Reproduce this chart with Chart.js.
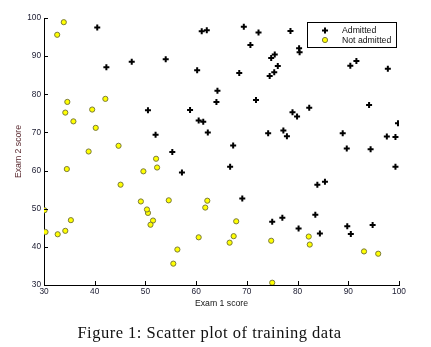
<!DOCTYPE html>
<html><head><meta charset="utf-8">
<script src="https://cdn.jsdelivr.net/npm/chart.js@4.4.0/dist/chart.umd.min.js"></script>
<style>
html,body{margin:0;padding:0;background:#fff;}
#wrap{position:relative;width:431px;height:347px;overflow:hidden;}
#c{position:absolute;left:0;top:0;}
#cap{position:absolute;left:0;width:419px;top:323px;text-align:center;font-family:"Liberation Serif",serif;font-size:16.5px;letter-spacing:0.5px;line-height:20px;color:#111;white-space:nowrap;}
</style></head><body>
<div id="wrap"><canvas id="c" width="431" height="347"></canvas><div id="cap">Figure 1: Scatter plot of training data</div></div>
<script>
const seriesLabels = ['Admitted', 'Not admitted'];
const xTitle = 'Exam 1 score';
const yTitle = 'Exam 2 score';
const xTicks = [30, 40, 50, 60, 70, 80, 90, 100];
const yTicks = [30, 40, 50, 60, 70, 80, 90, 100];

const admittedExam1 = [60.2, 79.0, 61.1, 75.0, 76.1, 84.4, 82.3, 69.4, 54.0, 69.1, 70.7, 77.0, 89.7, 77.9, 62.3, 80.2, 61.4, 85.4, 52.0, 64.2, 83.9, 94.4, 77.2, 97.8, 62.1, 91.6, 79.9, 99.3, 90.5, 97.6, 74.2, 71.8, 75.4, 40.5, 80.3, 66.7, 64.0, 72.3, 60.5, 58.8, 99.8, 47.3, 50.5, 88.9, 94.8, 67.3, 57.2, 80.4, 68.5, 75.5, 78.6, 94.1, 90.4, 74.5, 89.8, 83.5, 42.3, 99.3, 55.3, 74.8];
const admittedExam2 = [86.3, 75.3, 96.5, 46.6, 87.4, 43.5, 76.5, 97.7, 89.2, 52.7, 92.9, 47.6, 65.8, 69.0, 70.0, 44.8, 72.8, 57.1, 69.4, 80.9, 56.3, 65.6, 70.5, 86.7, 96.8, 88.7, 74.2, 61.0, 43.4, 68.9, 69.8, 78.5, 85.8, 97.5, 92.1, 61.0, 78.0, 96.2, 73.1, 75.9, 72.4, 88.5, 75.8, 69.8, 45.7, 66.6, 59.5, 91.0, 85.6, 90.4, 96.6, 77.2, 87.5, 84.8, 45.4, 48.4, 87.1, 68.8, 64.9, 89.5];
const notAdmittedExam1 = [34.6, 30.3, 35.8, 45.1, 95.9, 75.0, 39.5, 67.9, 67.4, 50.5, 34.2, 93.1, 61.8, 38.8, 52.1, 40.2, 54.6, 33.9, 74.8, 34.2, 51.5, 82.4, 51.0, 62.2, 34.5, 50.3, 49.6, 32.6, 35.3, 56.3, 30.1, 44.7, 66.6, 49.1, 32.7, 60.5, 82.2, 42.1, 52.3, 55.5];
const notAdmittedExam2 = [78.0, 43.9, 72.9, 56.3, 38.2, 30.6, 76.0, 46.7, 42.8, 48.9, 44.2, 38.8, 50.3, 65.0, 63.1, 71.2, 52.2, 98.9, 41.6, 75.2, 46.9, 40.6, 45.8, 52.1, 60.4, 49.8, 59.8, 95.6, 47.0, 39.3, 49.6, 66.5, 41.1, 51.9, 43.3, 42.5, 42.7, 78.8, 60.8, 35.6];

const toPoints = (xs, ys) => xs.map((x, i) => ({x: x, y: ys[i]}));

const tickFont = {family: 'Liberation Sans, Arial, sans-serif', size: 8.3};
const titleFont = {family: 'Liberation Sans, Arial, sans-serif', size: 8.7};

const inwardTicks = {
  id: 'inwardTicks',
  afterDraw(chart) {
    const ctx = chart.ctx, xs = chart.scales.x, ys = chart.scales.y, a = chart.chartArea;
    ctx.save();
    ctx.strokeStyle = '#000';
    ctx.lineWidth = 1;
    ctx.beginPath();
    xTicks.forEach(v => {
      const px = Math.round(xs.getPixelForValue(v)) + 0.5;
      ctx.moveTo(px, a.bottom); ctx.lineTo(px, a.bottom - 4);
    });
    yTicks.forEach(v => {
      const py = Math.round(ys.getPixelForValue(v)) + 0.5;
      ctx.moveTo(a.left, py); ctx.lineTo(a.left + 4, py);
    });
    ctx.stroke();
    ctx.restore();
  }
};

const boxLegend = {
  id: 'boxLegend',
  afterDraw(chart) {
    const ctx = chart.ctx, a = chart.chartArea;
    const bx = a.right - 92, by = a.top + 4, bw = 89, bh = 25;
    ctx.save();
    ctx.fillStyle = '#fff';
    ctx.fillRect(bx, by, bw, bh);
    ctx.strokeStyle = '#000';
    ctx.lineWidth = 1;
    ctx.strokeRect(Math.round(bx) + 0.5, Math.round(by) + 0.5, bw, bh);
    ctx.font = '8.7px "Liberation Sans", Arial, sans-serif';
    ctx.textBaseline = 'middle';
    ctx.textAlign = 'left';
    chart.data.datasets.forEach((ds, i) => {
      const cy = by + 8.5 + i * 9.5;
      ctx.fillStyle = ds.backgroundColor;
      ctx.strokeStyle = ds.borderColor;
      ctx.lineWidth = ds.borderWidth;
      Chart.helpers.drawPoint(ctx, {pointStyle: ds.pointStyle, radius: ds.pointRadius, borderWidth: ds.borderWidth, rotation: 0}, bx + 18, cy);
      ctx.fillStyle = '#111';
      ctx.fillText(ds.label, bx + 35, cy + 0.5);
    });
    ctx.restore();
  }
};

new Chart(document.getElementById('c'), {
  type: 'scatter',
  data: {
    datasets: [
      {
        label: seriesLabels[0],
        data: toPoints(admittedExam1, admittedExam2),
        pointStyle: 'cross',
        pointRadius: 3,
        borderWidth: 2,
        borderColor: '#000',
        backgroundColor: '#000',
        order: 1
      },
      {
        label: seriesLabels[1],
        data: toPoints(notAdmittedExam1, notAdmittedExam2),
        pointStyle: 'circle',
        pointRadius: 2.6,
        borderWidth: 1,
        borderColor: '#7a7a3c',
        backgroundColor: '#ffff00',
        order: 0
      }
    ]
  },
  options: {
    responsive: false,
    animation: false,
    devicePixelRatio: 1,
    events: [],
    layout: {padding: {left: 0, top: 18, right: 32, bottom: 38}},
    plugins: {legend: {display: false}, tooltip: {enabled: false}},
    scales: {
      x: {
        type: 'linear', min: 30, max: 100,
        afterBuildTicks: s => { s.ticks = xTicks.map(v => ({value: v})); },
        afterFit: s => { s.height = 24; },
        grid: {display: false, drawTicks: false},
        border: {display: true, color: '#000', width: 1},
        ticks: {font: tickFont, color: '#202035', padding: 2, maxRotation: 0, autoSkip: false},
        title: {display: true, text: xTitle, font: titleFont, color: '#151515', padding: 0}
      },
      y: {
        type: 'linear', min: 30, max: 100,
        afterBuildTicks: s => { s.ticks = yTicks.map(v => ({value: v})); },
        afterFit: s => { s.width = 44; },
        grid: {display: false, drawTicks: false},
        border: {display: true, color: '#000', width: 1},
        ticks: {font: tickFont, color: '#202035', padding: 3, autoSkip: false},
        title: {display: true, text: yTitle, font: titleFont, color: '#5a2a30', padding: {top: 13.6, bottom: 0}}
      }
    }
  },
  plugins: [inwardTicks, boxLegend]
});
</script>
</body></html>
